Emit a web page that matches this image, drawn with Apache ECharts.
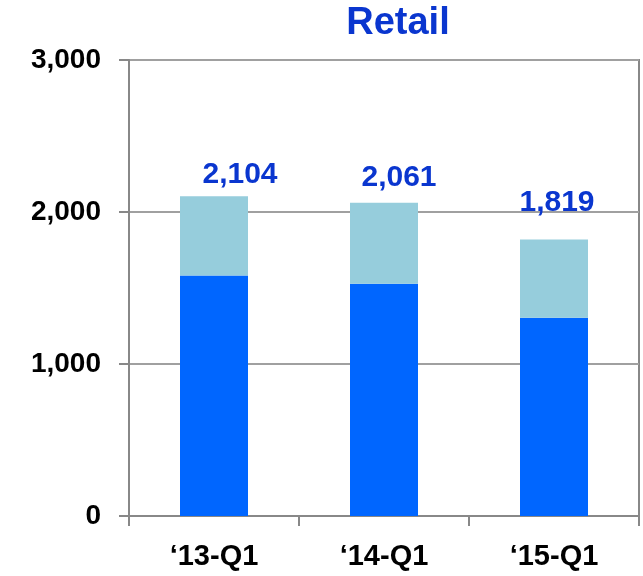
<!DOCTYPE html>
<html>
<head>
<meta charset="utf-8">
<script src="https://cdn.jsdelivr.net/npm/echarts@6/dist/echarts.min.js"></script>
<style>
  html, body { margin: 0; padding: 0; background: #fff; }
  #chart { width: 643px; height: 576px; }
</style>
</head>
<body>
<div id="chart"></div>
<script>
// Quarterly retail volume: total per quarter and its lower (dark) component
const quarters = ['\u201813-Q1', '\u201814-Q1', '\u201815-Q1'];
const totals = [2104, 2061, 1819];
const baseValues = [1583, 1528, 1305];
const yTicks = [0, 1000, 2000, 3000];

// Upper segment is whatever remains of the total above the base
const upperValues = totals.map((t, i) => t - baseValues[i]);

// Label nudges for the total figures above each bar
const labelShift = [[26, -6], [15, -10], [3, -22]];

const chart = echarts.init(document.getElementById('chart'));
const font = 'Arial, "Liberation Sans", sans-serif';

chart.setOption({
  animation: false,
  title: {
    text: 'Retail',
    left: 393,
    top: 0,
    textAlign: 'center',
    textStyle: { color: '#0A36CF', fontSize: 38, fontWeight: 'bold', fontFamily: font }
  },
  grid: {
    left: 129, right: 4, top: 60, bottom: 60,
    show: true, borderColor: '#888888', borderWidth: 2, backgroundColor: 'transparent'
  },
  xAxis: {
    type: 'category',
    data: quarters,
    axisLine: { lineStyle: { color: '#888888', width: 2 } },
    axisTick: { show: true, length: 10, alignWithLabel: false, lineStyle: { color: '#888888', width: 2 } },
    axisLabel: { margin: 26, color: '#000', fontSize: 29, fontWeight: 'bold', fontFamily: font }
  },
  yAxis: {
    type: 'value',
    min: yTicks[0],
    max: yTicks[yTicks.length - 1],
    interval: 1000,
    axisLine: { show: true, lineStyle: { color: '#888888', width: 2 } },
    axisTick: { show: true, length: 10, lineStyle: { color: '#888888', width: 2 } },
    splitLine: { show: true, lineStyle: { color: '#A0A0A0', width: 2 } },
    axisLabel: {
      margin: 28, color: '#000', fontSize: 28, fontWeight: 'bold', fontFamily: font,
      formatter: v => v.toLocaleString('en-US')
    }
  },
  series: [
    {
      type: 'bar',
      stack: 'retail',
      barWidth: 68,
      data: baseValues,
      itemStyle: { color: '#0066FF' }
    },
    {
      type: 'bar',
      stack: 'retail',
      barWidth: 68,
      itemStyle: { color: '#96CDDC' },
      data: upperValues.map((v, i) => ({
        value: v,
        label: { offset: labelShift[i] }
      })),
      label: {
        show: true,
        position: 'top',
        distance: 0,
        color: '#0A36CF',
        fontSize: 30,
        fontWeight: 'bold',
        fontFamily: font,
        formatter: p => totals[p.dataIndex].toLocaleString('en-US')
      }
    }
  ]
});
</script>
</body>
</html>
